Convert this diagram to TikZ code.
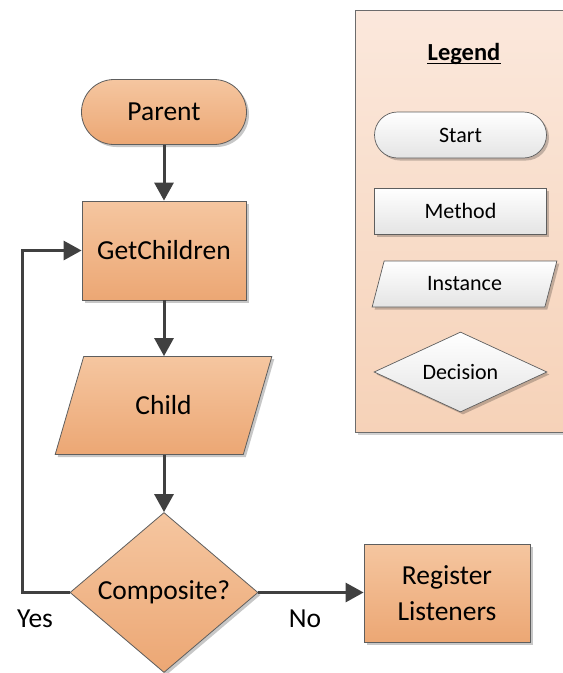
\documentclass[tikz,border=0pt]{standalone}
\usepackage{fontspec}
\setmainfont{Carlito}
\usetikzlibrary{arrows.meta,shapes.geometric,shadows,calc}

\definecolor{orangetop}{HTML}{F5C6A0}
\definecolor{orangebot}{HTML}{ECA774}
\definecolor{edgegray}{HTML}{5E5E5E}
\definecolor{flowgray}{HTML}{404040}
\definecolor{legtop}{HTML}{FBE8DC}
\definecolor{legbot}{HTML}{F6D2B8}
\definecolor{whitebot}{HTML}{E4E4E4}

\tikzset{
  x=1pt, y=-1pt,
  softshadow/.style={drop shadow={shadow xshift=2.5pt, shadow yshift=-2.5pt, fill=black, opacity=0.22}},
  mainshape/.style={draw=edgegray, line width=0.8pt, top color=orangetop, bottom color=orangebot,
    softshadow, inner sep=0pt, font=\fontsize{27.5}{36}\selectfont, align=center},
  legshape/.style={draw=edgegray, line width=0.7pt, top color=white, bottom color=whitebot,
    softshadow, inner sep=0pt, font=\fontsize{22}{26}\selectfont},
  flow/.style={draw=flowgray, line width=3pt, -{Triangle[length=18pt,width=19pt]}},
  lbl/.style={font=\fontsize{27.5}{33}\selectfont, inner sep=0pt, anchor=base},
}

\begin{document}
\begin{tikzpicture}
\useasboundingbox (0,0) rectangle (563,673);

% legend panel
\node[draw=gray!85!black, line width=0.8pt, top color=legtop, bottom color=legbot,
      drop shadow={shadow xshift=2.5pt, shadow yshift=-2.5pt, fill=black, opacity=0.18},
      minimum width=212pt, minimum height=422pt, inner sep=0pt, anchor=north west]
      (legendbox) at (355,10) {};
\node[font=\fontsize{24.5}{28}\selectfont\bfseries, inner sep=0pt, anchor=base]
      (legendtitle) at (464,60) {Legend};
\draw[line width=1.6pt] ([yshift=-3.5pt]legendtitle.base west) -- ([yshift=-3.5pt]legendtitle.base east);

\node[legshape, rectangle, rounded corners=23pt, minimum width=172pt, minimum height=46pt]
      (lstart) at (460.5,135) {Start};
\node[legshape, rectangle, minimum width=172pt, minimum height=46pt]
      (lmethod) at (460.5,211) {Method};
\node[legshape, trapezium, trapezium stretches=true, trapezium left angle=68.6,
      trapezium right angle=111.4, minimum width=185pt, minimum height=46pt]
      (linstance) at (464.5,284) {Instance};
\node[legshape, diamond, aspect=2.16, minimum width=173pt, minimum height=80pt]
      (ldecision) at (460.5,372) {Decision};

% flowchart
\node[mainshape, rectangle, rounded corners=32.5pt, minimum width=165pt, minimum height=65pt]
      (parent) at (164,112) {Parent};
\node[mainshape, rectangle, minimum width=164pt, minimum height=99pt]
      (getch) at (164,250.5) {GetChildren};
\node[mainshape, trapezium, trapezium stretches=true, trapezium left angle=62.5,
      trapezium right angle=117.5, minimum width=217pt, minimum height=98pt]
      (child) at (163.5,405.5) {Child};
\node[mainshape, diamond, aspect=1.175, minimum width=188pt, minimum height=160pt]
      (comp) at (164,592.5) {Composite?};
\node[mainshape, rectangle, minimum width=166pt, minimum height=98pt]
      (reg) at (447,593) {Register\\Listeners};

\coordinate (loopx) at (22,0);

\draw[flow] (parent.south) -- (getch.north);
\draw[flow] (getch.south) -- (getch.south |- child.north);
\draw[flow] (getch.south |- child.south) -- (comp.north);
\draw[flow] (comp.east) -- (reg.west |- comp.east);
\draw[flow] (comp.west) -- (comp.west -| loopx) |- (getch.west);

\node[lbl] (yes) at (35,627) {Yes};
\node[lbl] (no) at (305,627) {No};
\end{tikzpicture}
\end{document}
